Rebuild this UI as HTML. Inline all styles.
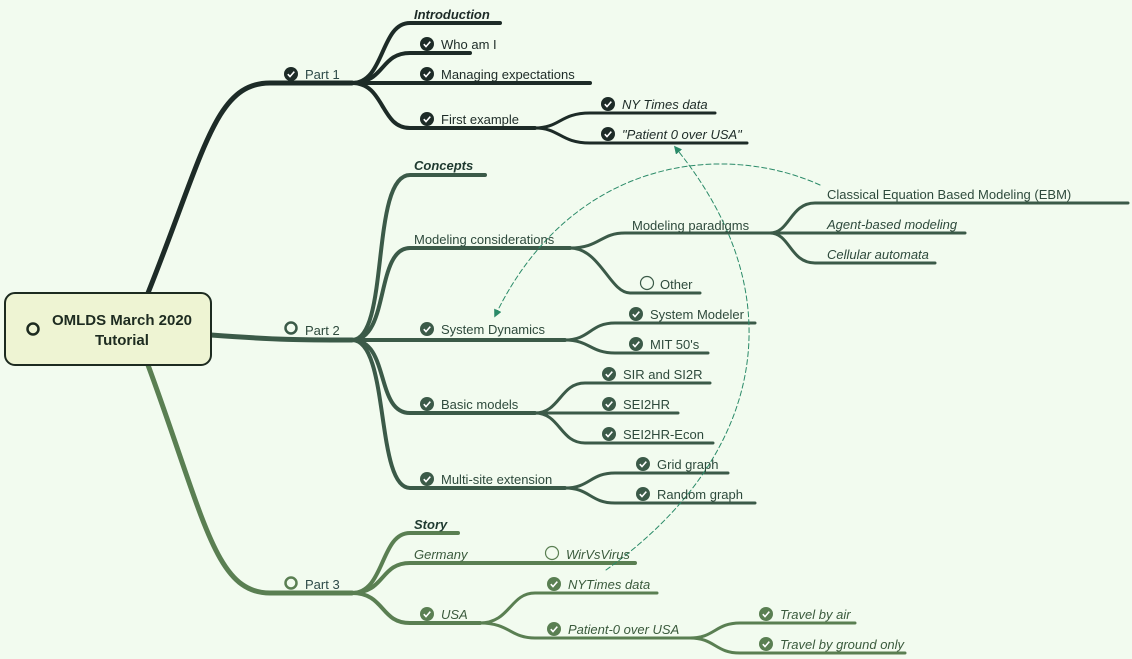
<!DOCTYPE html>
<html><head><meta charset="utf-8"><style>
html,body{margin:0;padding:0;background:#f2fbef;}
svg{display:block;}
text{font-family:"Liberation Sans",sans-serif;font-size:13px;}
.i{font-style:italic;}
.b{font-weight:bold;font-style:italic;}
</style></head><body>
<svg width="1132" height="659" viewBox="0 0 1132 659" xmlns="http://www.w3.org/2000/svg">
<defs>
<symbol id="ck" viewBox="-7 -7 14 14"><circle r="7" fill="currentColor"/><path d="M-3.2 0.2 L-1 2.6 L3.3 -2.4" stroke="#fff" stroke-width="1.6" fill="none"/></symbol>
<marker id="ar" viewBox="0 0 10 10" refX="8" refY="5" markerWidth="8" markerHeight="8" orient="auto-start-reverse"><path d="M0 0 L10 5 L0 10z" fill="#2a8a68"/></marker>
</defs>
<g fill="none" stroke-linecap="round">
<!-- Part1 -->
<g stroke="#1d2b27">
<path d="M148 293 C205 150 215 83 270 83 L352 83" stroke-width="5"/>
<path d="M352 83 C385 83 380 23 410 23 L500 23" stroke-width="4"/>
<path d="M352 83 C385 83 380 53 410 53 L470 53" stroke-width="4"/>
<path d="M352 83 L590 83" stroke-width="4"/>
<path d="M352 83 C385 83 380 128 410 128 L535 128" stroke-width="4"/>
<path d="M535 128 C560 128 560 113 590 113 L715 113" stroke-width="3"/>
<path d="M535 128 C560 128 560 143 590 143 L747 143" stroke-width="3"/>
</g>
<!-- Part2 -->
<g stroke="#3b5a48">
<path d="M211 335 C280 340 300 340 352 340" stroke-width="5"/>
<path d="M352 340 C390 340 370 175 410 175 L485 175" stroke-width="4"/>
<path d="M352 340 C390 340 375 248 410 248 L570 248" stroke-width="4"/>
<path d="M352 340 L565 340" stroke-width="4"/>
<path d="M352 340 C390 340 375 413 410 413 L535 413" stroke-width="4"/>
<path d="M352 340 C390 340 375 488 410 488 L565 488" stroke-width="4"/>
<path d="M570 248 C600 248 600 233 625 233 L770 233" stroke-width="3"/>
<path d="M570 248 C600 248 610 293 630 293 L700 293" stroke-width="3"/>
<path d="M770 233 C790 233 790 203 815 203 L1128 203" stroke-width="3"/>
<path d="M770 233 L965 233" stroke-width="3"/>
<path d="M770 233 C790 233 790 263 815 263 L935 263" stroke-width="3"/>
<path d="M565 340 C590 340 590 323 615 323 L755 323" stroke-width="3"/>
<path d="M565 340 C590 340 590 353 615 353 L708 353" stroke-width="3"/>
<path d="M535 413 C560 413 560 383 585 383 L710 383" stroke-width="3"/>
<path d="M535 413 L678 413" stroke-width="3"/>
<path d="M535 413 C560 413 560 443 585 443 L713 443" stroke-width="3"/>
<path d="M565 488 C590 488 590 473 615 473 L728 473" stroke-width="3"/>
<path d="M565 488 C590 488 590 503 615 503 L755 503" stroke-width="3"/>
</g>
<!-- Part3 -->
<g stroke="#5a7f52">
<path d="M148 365 C205 520 215 593 270 593 L352 593" stroke-width="5"/>
<path d="M352 593 C385 593 380 533 410 533 L458 533" stroke-width="4"/>
<path d="M352 593 C385 593 380 563 410 563 L635 563" stroke-width="4"/>
<path d="M352 593 C385 593 380 623 410 623 L480 623" stroke-width="4"/>
<path d="M480 623 C510 623 510 593 535 593 L657 593" stroke-width="3"/>
<path d="M480 623 C510 623 510 638 535 638 L690 638" stroke-width="3"/>
<path d="M690 638 C715 638 715 623 740 623 L855 623" stroke-width="3"/>
<path d="M690 638 C715 638 715 653 740 653 L905 653" stroke-width="3"/>
</g>
<!-- dashed -->
<g stroke="#2a8a68" stroke-width="1" stroke-dasharray="5,3">
<path d="M820 185 C720 140 570 160 495 316" marker-end="url(#ar)"/>
<path d="M606 570 C760 460 800 300 675 147" marker-end="url(#ar)"/>
</g>
</g>
<!-- root -->
<rect x="5" y="293" width="206" height="72" rx="10" fill="#eef4d3" stroke="#1d2b20" stroke-width="2"/>
<circle cx="33" cy="329" r="5.5" fill="none" stroke="#1d2b20" stroke-width="2.5"/>
<text x="122" y="325" text-anchor="middle" style="font-size:15px;font-weight:bold" fill="#1d2b20">OMLDS March 2020</text>
<text x="122" y="345" text-anchor="middle" style="font-size:15px;font-weight:bold" fill="#1d2b20">Tutorial</text>
<!-- Part1 labels -->
<g fill="#1d2b27" color="#1d2b27">
<use href="#ck" x="284" y="67" width="14" height="14"/><text x="305" y="79" fill="#2d4a48">Part 1</text>
<text x="414" y="19" class="b">Introduction</text>
<use href="#ck" x="420" y="37" width="14" height="14"/><text x="441" y="49">Who am I</text>
<use href="#ck" x="420" y="67" width="14" height="14"/><text x="441" y="79">Managing expectations</text>
<use href="#ck" x="420" y="112" width="14" height="14"/><text x="441" y="124">First example</text>
<use href="#ck" x="601" y="97" width="14" height="14"/><text x="622" y="109" class="i">NY Times data</text>
<use href="#ck" x="601" y="127" width="14" height="14"/><text x="622" y="139" class="i">"Patient 0 over USA"</text>
</g>
<!-- Part2 labels -->
<g fill="#2e4a3c" color="#3b5a48">
<circle cx="291" cy="328" r="5.5" fill="none" stroke="#3b5a48" stroke-width="2.5"/><text x="305" y="335">Part 2</text>
<text x="414" y="170" class="b" fill="#1f3a30">Concepts</text>
<text x="414" y="244">Modeling considerations</text>
<text x="632" y="230">Modeling paradigms</text>
<circle cx="647" cy="283" r="6.5" fill="none" stroke="#3b5a48" stroke-width="1.2"/><text x="660" y="289">Other</text>
<text x="827" y="199">Classical Equation Based Modeling (EBM)</text>
<text x="827" y="229" class="i">Agent-based modeling</text>
<text x="827" y="259" class="i">Cellular automata</text>
<use href="#ck" x="420" y="322" width="14" height="14"/><text x="441" y="334">System Dynamics</text>
<use href="#ck" x="629" y="307" width="14" height="14"/><text x="650" y="319">System Modeler</text>
<use href="#ck" x="629" y="337" width="14" height="14"/><text x="650" y="349">MIT 50's</text>
<use href="#ck" x="420" y="397" width="14" height="14"/><text x="441" y="409">Basic models</text>
<use href="#ck" x="602" y="367" width="14" height="14"/><text x="623" y="379">SIR and SI2R</text>
<use href="#ck" x="602" y="397" width="14" height="14"/><text x="623" y="409">SEI2HR</text>
<use href="#ck" x="602" y="427" width="14" height="14"/><text x="623" y="439">SEI2HR-Econ</text>
<use href="#ck" x="420" y="472" width="14" height="14"/><text x="441" y="484">Multi-site extension</text>
<use href="#ck" x="636" y="457" width="14" height="14"/><text x="657" y="469">Grid graph</text>
<use href="#ck" x="636" y="487" width="14" height="14"/><text x="657" y="499">Random graph</text>
</g>
<!-- Part3 labels -->
<g fill="#3a5a3c" color="#5a7f52">
<circle cx="291" cy="583" r="5.5" fill="none" stroke="#5a7f52" stroke-width="2.5"/><text x="305" y="589" fill="#2d4a48">Part 3</text>
<text x="414" y="529" class="b" fill="#1f3a30">Story</text>
<text x="414" y="559" class="i">Germany</text>
<circle cx="552" cy="553" r="6.5" fill="none" stroke="#5a7f52" stroke-width="1.2"/><text x="566" y="559" class="i">WirVsVirus</text>
<use href="#ck" x="420" y="607" width="14" height="14"/><text x="441" y="619" class="i">USA</text>
<use href="#ck" x="547" y="577" width="14" height="14"/><text x="568" y="589" class="i">NYTimes data</text>
<use href="#ck" x="547" y="622" width="14" height="14"/><text x="568" y="634" class="i">Patient-0 over USA</text>
<use href="#ck" x="759" y="607" width="14" height="14"/><text x="780" y="619" class="i">Travel by air</text>
<use href="#ck" x="759" y="637" width="14" height="14"/><text x="780" y="649" class="i">Travel by ground only</text>
</g>
</svg>
</body></html>
